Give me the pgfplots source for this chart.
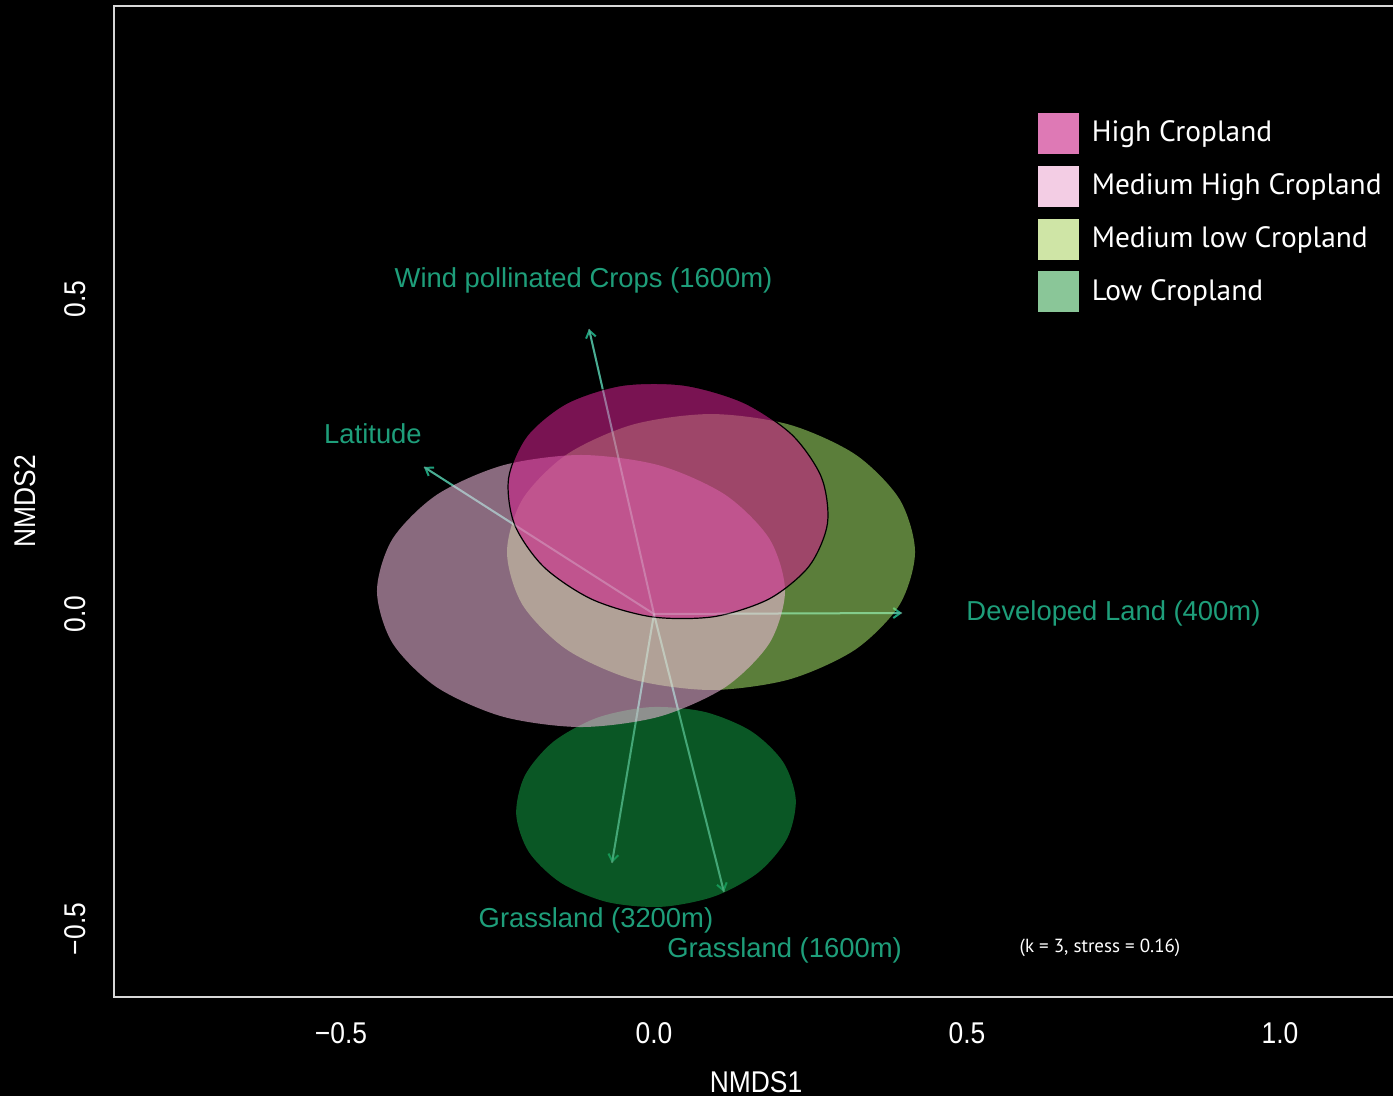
\documentclass[border=0pt]{standalone}
\usepackage{pgfplots}
\pgfplotsset{compat=1.18}
\usepackage{fontspec}
\usetikzlibrary{arrows.meta}
\setmainfont{Liberation Sans}
\newfontfamily\axfont[FakeStretch=0.88]{Liberation Sans}
\newfontfamily\legfont{PT Sans}

\definecolor{vec}{RGB}{30,158,122}
\definecolor{vecglow}{RGB}{232,226,236}
\definecolor{hc}{RGB}{203,33,137}
\definecolor{mhc}{RGB}{246,190,225}
\definecolor{mlc}{RGB}{166,231,106}
\definecolor{lc}{RGB}{18,146,62}
\definecolor{hcleg}{RGB}{222,121,181}
\definecolor{mhcleg}{RGB}{243,205,228}
\definecolor{mlcleg}{RGB}{207,229,166}
\definecolor{lcleg}{RGB}{138,198,152}
\definecolor{frame}{RGB}{215,215,215}

\pgfplotsset{
  swatch legend/.style={legend image code/.code={%
    \fill[##1] (0pt,-10.5pt) rectangle (21pt,10.5pt); \path (27pt,0pt);}},
}

\begin{document}
\begin{tikzpicture}
\useasboundingbox (0,0) rectangle (696.5pt,548pt);
\fill[black] (0,0) rectangle (696.5pt,548pt);
\begin{axis}[
  at={(57pt,49.5pt)}, anchor=south west,
  x=313pt, y=315pt,
  xmin=-0.8626, xmax=1.1885, ymin=-0.6079, ymax=0.9651,
  clip=false,
  axis line style={frame, line width=1pt},
  major tick length=0pt,
  xtick={-0.5,0,0.5,1}, xticklabels={−0.5,0.0,0.5,1.0},
  ytick={-0.5,0,0.5}, yticklabels={−0.5,0.0,0.5},
  tick label style={font=\fontsize{15}{18}\axfont, text=white, inner sep=0pt},
  xticklabel style={anchor=north},
  xticklabel shift=12.5pt,
  yticklabel style={rotate=90, anchor=south},
  yticklabel shift=14pt,
  legend style={at={(axis cs:0.6118,0.7968)}, anchor=north west, draw=none, fill=none,
    inner sep=0pt, outer sep=0pt, text=white, font=\fontsize{14.7}{17}\legfont,
    row sep=5pt, nodes={inner sep=0pt, anchor=mid west, yshift=-1.5pt}},
  legend cell align=left,
  vector/.style={vec, line width=1pt, -{Straight Barb[length=3.5pt,width=5pt]}},
  vectorglow/.style={vecglow, line width=1pt, opacity=0.22},
]

% biplot vectors (fitted environmental variables)
\addplot[forget plot, vector] coordinates {(0,0) (-0.1038,0.4524)};
\addplot[forget plot, vector] coordinates {(0,0) (-0.3674,0.2333)};
\addplot[forget plot, vector] coordinates {(0,0) (0.3962,0.0016)};
\addplot[forget plot, vector] coordinates {(0,0) (-0.0671,-0.3952)};
\addplot[forget plot, vector] coordinates {(0,0) (0.1118,-0.4413)};

% group ellipses
\addplot[forget plot, draw=none, fill=lc, fill opacity=0.6, smooth cycle] coordinates {
 (0.2265,-0.2946) (0.2063,-0.2349) (0.1552,-0.1860) (0.0810,-0.1554)
 (-0.0051,-0.1478) (-0.0900,-0.1644) (-0.1606,-0.2026) (-0.2063,-0.2565)
 (-0.2201,-0.3180) (-0.1999,-0.3777) (-0.1488,-0.4266) (-0.0746,-0.4572)
 (0.0115,-0.4648) (0.0964,-0.4482) (0.1670,-0.4100) (0.2127,-0.3561)};
\addplot[forget plot, draw=none, fill=mlc, fill opacity=0.55, smooth cycle] coordinates {
 (0.4170,0.0984) (0.3922,0.1822) (0.3215,0.2533) (0.2158,0.3007)
 (0.0911,0.3174) (-0.0336,0.3007) (-0.1393,0.2533) (-0.2100,0.1822)
 (-0.2348,0.0984) (-0.2100,0.0146) (-0.1393,-0.0565) (-0.0336,-0.1039)
 (0.0911,-0.1206) (0.2158,-0.1039) (0.3215,-0.0565) (0.3922,0.0146)};
\addplot[forget plot, draw=none, fill=mhc, fill opacity=0.56, smooth cycle] coordinates {
 (0.2093,0.0365) (0.1845,0.1191) (0.1138,0.1892) (0.0081,0.2360)
 (-0.1166,0.2524) (-0.2413,0.2360) (-0.3470,0.1892) (-0.4177,0.1191)
 (-0.4425,0.0365) (-0.4177,-0.0461) (-0.3470,-0.1162) (-0.2413,-0.1630)
 (-0.1166,-0.1794) (0.0081,-0.1630) (0.1138,-0.1162) (0.1845,-0.0461)};
\addplot[forget plot, draw=black, line width=0.6pt, fill=hc, fill opacity=0.6, smooth cycle] coordinates {
 (0.2771,0.1436) (0.2676,0.2167) (0.2208,0.2841) (0.1437,0.3356)
 (0.0482,0.3633) (-0.0511,0.3630) (-0.1394,0.3347) (-0.2030,0.2829)
 (-0.2323,0.2152) (-0.2228,0.1421) (-0.1760,0.0747) (-0.0989,0.0232)
 (-0.0034,-0.0045) (0.0959,-0.0042) (0.1842,0.0241) (0.2478,0.0759)};

% vectors shining through the ellipses
\addplot[forget plot, vectorglow] coordinates {(0,0) (-0.1038,0.4524)};
\addplot[forget plot, vectorglow] coordinates {(0,0) (-0.3674,0.2333)};
\addplot[forget plot, vectorglow] coordinates {(0,0) (0.3962,0.0016)};
\addplot[forget plot, vectorglow] coordinates {(0,0) (-0.0671,-0.3952)};
\addplot[forget plot, vectorglow] coordinates {(0,0) (0.1118,-0.4413)};

% vector labels
\begin{scope}[every node/.style={text=vec, font=\fontsize{13.7}{16}\selectfont, inner sep=0pt, anchor=center}]
\node at (axis cs:-0.1126,0.5302) {Wind pollinated Crops (1600m)};
\node at (axis cs:-0.4489,0.2857) {Latitude};
\node at (axis cs:0.7340,0.0016) {Developed Land (400m)};
\node at (axis cs:-0.0927,-0.4857) {Grassland (3200m)};
\node at (axis cs:0.2085,-0.5333) {Grassland (1600m)};
\end{scope}

\node[text=white, font=\fontsize{9.5}{11}\legfont, inner sep=0pt] at (axis cs:0.7125,-0.5302) {(k = 3, stress = 0.16)};

% axis titles
\node[text=white, font=\fontsize{15}{18}\axfont, inner sep=0pt, anchor=center]
  at (axis description cs:0.5,-0.0858) {NMDS1};
\node[text=white, font=\fontsize{15}{18}\axfont, inner sep=0pt, anchor=center, rotate=90]
  at (axis description cs:-0.0693,0.5) {NMDS2};

% legend
\addlegendimage{fill=hcleg, swatch legend}
\addlegendentry{High Cropland}
\addlegendimage{fill=mhcleg, swatch legend}
\addlegendentry{Medium High Cropland}
\addlegendimage{fill=mlcleg, swatch legend}
\addlegendentry{Medium low Cropland}
\addlegendimage{fill=lcleg, swatch legend}
\addlegendentry{Low Cropland}
\end{axis}
\end{tikzpicture}
\end{document}
